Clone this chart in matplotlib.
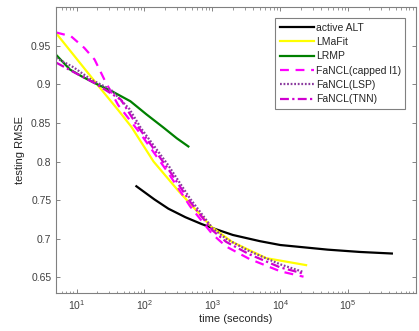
"""Testing RMSE vs time: FaNCL variants against baselines."""
import numpy as np
import matplotlib
matplotlib.use('Agg')
import matplotlib.pyplot as plt

plt.rcParams.update({
    'font.family': 'Liberation Sans',
    'font.size': 7.5,
    'text.color': '#262626',
    'axes.labelcolor': '#262626',
    'xtick.color': '#707070',
    'ytick.color': '#707070',
    'xtick.labelcolor': '#404040',
    'ytick.labelcolor': '#404040',
    'mathtext.default': 'regular',
})

# curves (time in seconds, testing RMSE)
alt_t = [76, 140, 225, 400, 700, 1000, 2000, 5000, 1e4, 5e4, 1.5e5, 4.4e5]
alt_rmse = [0.768, 0.751, 0.739, 0.728, 0.719, 0.714, 0.705, 0.697, 0.692, 0.686, 0.683, 0.681]

lmafit_t = [5, 10, 20, 41.5, 64, 136, 316, 620, 955, 1950, 6200, 2.4e4]
lmafit_rmse = [0.966, 0.933, 0.900, 0.866, 0.845, 0.800, 0.762, 0.734, 0.716, 0.696, 0.675, 0.666]

lrmp_t = [5, 8, 12, 18, 33, 62, 107, 190, 300, 443]
lrmp_rmse = [0.938, 0.919, 0.910, 0.902, 0.891, 0.878, 0.861, 0.844, 0.830, 0.8195]

capped_t = [5, 8.3, 13, 18.4, 26, 41, 89, 225, 470, 1000, 1600, 3500, 1e4, 2.2e4]
capped_rmse = [0.967, 0.962, 0.947, 0.932, 0.905, 0.873, 0.835, 0.785, 0.742, 0.706, 0.690, 0.674, 0.658, 0.651]

lsp_t = [5, 9, 16.4, 32, 60, 89, 225, 470, 1000, 1600, 3500, 1e4, 2.2e4]
lsp_rmse = [0.934, 0.922, 0.906, 0.893, 0.868, 0.843, 0.795, 0.752, 0.714, 0.700, 0.684, 0.667, 0.657]

tnn_t = [5, 9.4, 18, 45, 76, 225, 470, 1000, 1600, 3500, 1e4, 2.2e4]
tnn_rmse = [0.928, 0.915, 0.902, 0.880, 0.848, 0.790, 0.748, 0.711, 0.696, 0.680, 0.663, 0.655]

fig = plt.figure(figsize=(4.19, 3.31), dpi=100)
ax = fig.add_axes([0.134, 0.115, 0.859, 0.864])

lw = 1.6
ax.plot(alt_t, alt_rmse, color='black', lw=lw, label='active ALT')
ax.plot(lmafit_t, lmafit_rmse, color='#ffff00', lw=lw, label='LMaFit')
ax.plot(lrmp_t, lrmp_rmse, color='#008000', lw=lw, label='LRMP')
ax.plot(capped_t, capped_rmse, color='#ff00ff', lw=lw, ls=(0, (4, 3)), label='FaNCL(capped l1)')
ax.plot(lsp_t, lsp_rmse, color='#8a3a9e', lw=lw, ls=(0, (0.8, 0.8)), label='FaNCL(LSP)')
ax.plot(tnn_t, tnn_rmse, color='#d000d0', lw=lw, ls=(0, (4, 1.5, 1, 1.5)), label='FaNCL(TNN)')

ax.set_xscale('log')
ax.set_xlim(5, 1e6)
ax.set_ylim(0.63, 1.0)
ax.set_yticks([0.65, 0.7, 0.75, 0.8, 0.85, 0.9, 0.95])
ax.set_yticklabels(['0.65', '0.7', '0.75', '0.8', '0.85', '0.9', '0.95'])
ax.set_xticks([1e1, 1e2, 1e3, 1e4, 1e5])
ax.tick_params(which='both', direction='in', top=True, right=True)
ax.tick_params(which='major', length=3, width=0.6, labelsize=7.5)
ax.tick_params(which='minor', length=1.8, width=0.5)
for s in ax.spines.values():
    s.set_color('#808080')
    s.set_linewidth(0.8)

ax.set_xlabel('time (seconds)', fontsize=8, labelpad=2)
ax.set_ylabel('testing RMSE', fontsize=8, labelpad=4)

leg = ax.legend(loc='upper right', bbox_to_anchor=(0.97, 0.96), fontsize=7.5,
                handlelength=3.3, handletextpad=0.2, labelspacing=0.42,
                borderpad=0.4, borderaxespad=0, fancybox=False, framealpha=1)
leg.get_frame().set_edgecolor('#808080')
leg.get_frame().set_linewidth(0.8)

fig.savefig('out.png', dpi=100, facecolor='white')
